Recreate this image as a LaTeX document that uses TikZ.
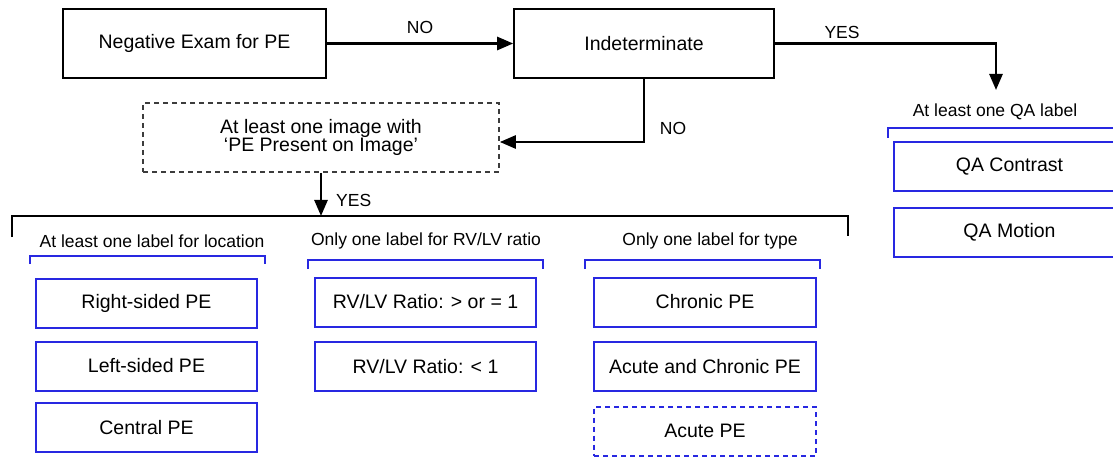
\documentclass[tikz,border=0pt]{standalone}
\usepackage{fontspec}
\setmainfont{Liberation Sans}
\usetikzlibrary{arrows.meta}
\definecolor{qblue}{RGB}{40,40,225}
\definecolor{dgray}{RGB}{60,60,60}
\begin{document}
\begin{tikzpicture}[x=1pt,y=-1pt,
  box/.style={draw=black, line width=1.6pt, minimum width=#1, minimum height=69pt, inner sep=0pt,
    font=\fontsize{19.5}{18}\selectfont, align=center},
  dbox/.style={box=#1, draw=dgray, dash pattern=on 5pt off 4pt},
  bbox/.style={draw=qblue, line width=2pt, minimum width=#1, minimum height=49pt, inner sep=0pt,
    font=\fontsize{19.5}{18}\selectfont, align=center},
  dbbox/.style={bbox=#1, dash pattern=on 5pt off 4pt},
  lbl/.style={font=\fontsize{17.5}{20}\selectfont, inner sep=0pt},
  conn/.style={line width=2.6pt, -{Triangle[length=16pt,width=13pt]}},
  line/.style={line width=2.6pt},
  bbrk/.style={draw=qblue, line width=2pt},
  kbrk/.style={draw=black, line width=2.6pt}
]
\useasboundingbox (0,0) rectangle (1113,457);
\clip (0,0) rectangle (1113,457);

% top row
\node[box=263pt] (neg) at (194.5,43.5) {Negative Exam for PE};
\node[box=260pt] (ind) at (644,43.5) {Indeterminate};
\node[dbox=356pt] (img) at (321,137.5) {At least one image with\\‘PE Present on Image’};

% QA branch
\node[lbl] (qalbl) at (995,112) {At least one QA label};
\coordinate (qaend) at (996,90);
\node[bbox=231pt] (qac) at (1009.5,166.5) {QA Contrast};
\node[bbox=231pt] (qam) at (1009.5,232.5) {QA Motion};
\coordinate (qab1) at (888,138);
\coordinate (qab2) at (1120,128);
\draw[bbrk] (qab1) |- (qab2);

% connectors
\draw[conn] (neg.east) -- (ind.west) node[lbl, midway, above=9pt] (no1) {NO};
\draw[conn] (ind.east) -| (qaend);
\node[lbl] (yes1) at (842,32) {YES};
\draw[conn] (ind.south) |- ([yshift=-4.5pt]img.east);
\node[lbl] (no2) at (673,128) {NO};

% big bracket
\coordinate (kb1) at (12,237);
\coordinate (kb2) at (848,236);
\coordinate (kbtop) at (321,216);
\draw[kbrk] (kb1) |- (kbtop) -| (kb2);
\draw[conn] (img.south) -- (kbtop);
\node[lbl, anchor=west] (yes2) at (336,200) {YES};

% column headers
\node[lbl] (h1) at (152,241) {At least one label for location};
\node[lbl] (h2) at (426,241) {Only one label for RV/LV ratio};
\node[lbl] (h3) at (710,241) {Only one label for type};

% blue brackets
\coordinate (b1a) at (30,264); \coordinate (b1b) at (265,264);
\draw[bbrk] (b1a) -- ++(0,-8) -- ([yshift=8pt]b1b) -- (b1b);
\coordinate (b2a) at (308,269); \coordinate (b2b) at (543,269);
\draw[bbrk] (b2a) -- ++(0,-9) -- ([yshift=9pt]b2b) -- (b2b);
\coordinate (b3a) at (585,269); \coordinate (b3b) at (820,269);
\draw[bbrk] (b3a) -- ++(0,-9) -- ([yshift=9pt]b3b) -- (b3b);

% column 1
\node[bbox=221pt] (rs) at (146.5,303) {Right-sided PE};
\node[bbox=221pt] (ls) at (146.5,366) {Left-sided PE};
\node[bbox=221pt] (cp) at (146.5,427.5) {Central PE};

% column 2
\node[bbox=221pt] (r1) at (425.5,302) {RV/LV Ratio: > or = 1};
\node[bbox=221pt] (r2) at (425.5,366.5) {RV/LV Ratio: < 1};

% column 3
\node[bbox=222pt] (ch) at (705,302) {Chronic PE};
\node[bbox=222pt] (ac) at (705,366.5) {Acute and Chronic PE};
\node[dbbox=222pt] (au) at (705,431) {Acute PE};
\end{tikzpicture}
\end{document}
